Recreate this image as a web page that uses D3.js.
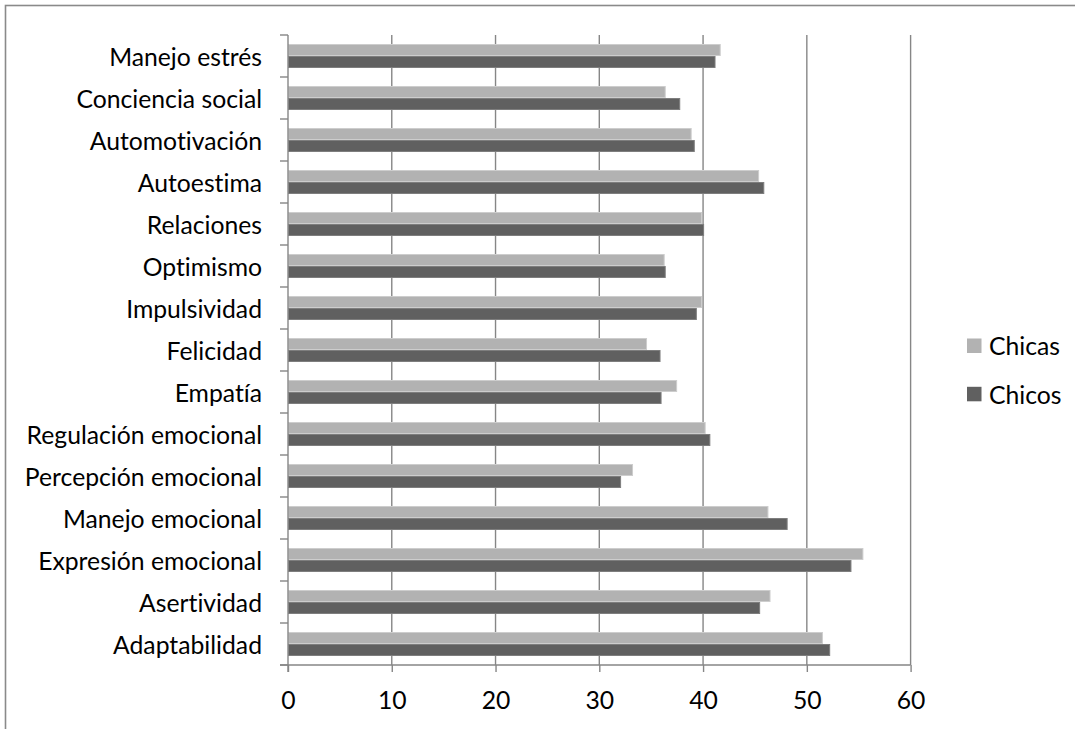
<!DOCTYPE html>
<html>
<head>
<meta charset="utf-8">
<script src="https://cdn.jsdelivr.net/npm/d3@7"></script>
<style>
  html, body { margin: 0; padding: 0; background: #fff; }
  svg { display: block; }
  text { font-family: Lato, "Open Sans", sans-serif; fill: #000; font-variant-ligatures: none; font-feature-settings: "liga" 0, "clig" 0; }
</style>
</head>
<body>
<svg id="chart" width="1075" height="729"></svg>
<script>
const categories = [
  "Manejo estrés", "Conciencia social", "Automotivación", "Autoestima",
  "Relaciones", "Optimismo", "Impulsividad", "Felicidad", "Empatía",
  "Regulación emocional", "Percepción emocional", "Manejo emocional",
  "Expresión emocional", "Asertividad", "Adaptabilidad"
];
const seriesNames = ["Chicas", "Chicos"];
const chicas = [41.7, 36.4, 38.9, 45.4, 39.9, 36.3, 39.9, 34.6, 37.5, 40.25, 33.25, 46.3, 55.45, 46.5, 51.55];
const chicos = [41.2, 37.8, 39.2, 45.9, 40.1, 36.4, 39.4, 35.9, 36.0, 40.7, 32.1, 48.15, 54.3, 45.5, 52.25];
const xTicks = [0, 10, 20, 30, 40, 50, 60];

(function () {
const colors = { Chicas: "#b2b2b2", Chicos: "#606060" };
const edges = { Chicas: "#cdcdcd", Chicos: "#7e7e7e" };

const svg = d3.select("#chart");
svg.append("rect").attr("width", 1075).attr("height", 729).attr("fill", "#fff");

// outer chart border (extends beyond right / bottom edges)
svg.append("rect")
  .attr("x", 5.5).attr("y", 5.5).attr("width", 1100).attr("height", 760)
  .attr("fill", "none").attr("stroke", "#8a8a8a").attr("stroke-width", 1.6);

// fit font size to match the reference label widths
const probe = svg.append("text").attr("font-size", 100).text("Adaptabilidad");
const probeW = probe.node().getComputedTextLength();
probe.remove();
const fs = Math.min(26, 100 * 149 / probeW);

const pL = 288, pR = 910.6, pT = 35, pB = 665;
const x = d3.scaleLinear().domain([0, 60]).range([pL, pR]);
const y = d3.scaleBand().domain(categories).range([pT, pB]).padding(0);
const yInner = d3.scaleBand().domain(seriesNames).range([0, y.bandwidth()])
  .paddingInner(0).paddingOuter(0.75);

const gridColor = "#868686";

// gridlines
svg.append("g").selectAll("line").data(xTicks.filter(d => d > 0)).join("line")
  .attr("x1", d => x(d)).attr("x2", d => x(d))
  .attr("y1", pT).attr("y2", pB)
  .attr("stroke", gridColor).attr("stroke-width", 1.4);

// bars
const data = [];
categories.forEach((c, i) => {
  data.push({ cat: c, s: "Chicas", v: chicas[i] });
  data.push({ cat: c, s: "Chicos", v: chicos[i] });
});
svg.append("g").selectAll("rect").data(data).join("rect")
  .attr("x", x(0) + 0.5)
  .attr("y", d => y(d.cat) + yInner(d.s) + 0.5)
  .attr("width", d => x(d.v) - x(0) - 1)
  .attr("height", yInner.bandwidth() - 1)
  .attr("fill", d => colors[d.s])
  .attr("stroke", d => edges[d.s])
  .attr("stroke-width", 1);

// x axis
const xAxis = d3.axisBottom(x).tickValues(xTicks).tickSize(7).tickPadding(19).tickFormat(d3.format("d"));
const gx = svg.append("g").attr("transform", `translate(0,${pB})`).call(xAxis);
gx.select(".domain").attr("stroke", gridColor).attr("stroke-width", 1.4)
  .attr("d", `M${pL - 8},0H${pR}`);
gx.selectAll(".tick line").attr("stroke", gridColor).attr("stroke-width", 1.4);
gx.selectAll(".tick text").attr("font-size", fs).attr("font-family", "Lato, 'Open Sans', sans-serif").attr("fill", "#000");

// y axis line and boundary ticks
svg.append("line").attr("x1", pL).attr("x2", pL).attr("y1", pT).attr("y2", pB + 7)
  .attr("stroke", gridColor).attr("stroke-width", 1.4);
const bounds = categories.map(c => y(c)).concat([pB]);
svg.append("g").selectAll("line").data(bounds).join("line")
  .attr("x1", pL - 8).attr("x2", pL)
  .attr("y1", d => d).attr("y2", d => d)
  .attr("stroke", gridColor).attr("stroke-width", 1.4);

// y labels
svg.append("g").selectAll("text").data(categories).join("text")
  .attr("x", 262).attr("y", d => y(d) + y.bandwidth() / 2)
  .attr("text-anchor", "end").attr("dominant-baseline", "central")
  .attr("font-size", fs).text(d => d);

// legend
const lg = svg.append("g");
seriesNames.forEach((s, i) => {
  const cy = 345.8 + i * 48.3;
  lg.append("rect").attr("x", 967).attr("y", cy - 7.3).attr("width", 14.5).attr("height", 14.5)
    .attr("fill", colors[s]);
  lg.append("text").attr("x", 989).attr("y", cy).attr("dominant-baseline", "central")
    .attr("font-size", fs).text(s);
});
})();
</script>
</body>
</html>
